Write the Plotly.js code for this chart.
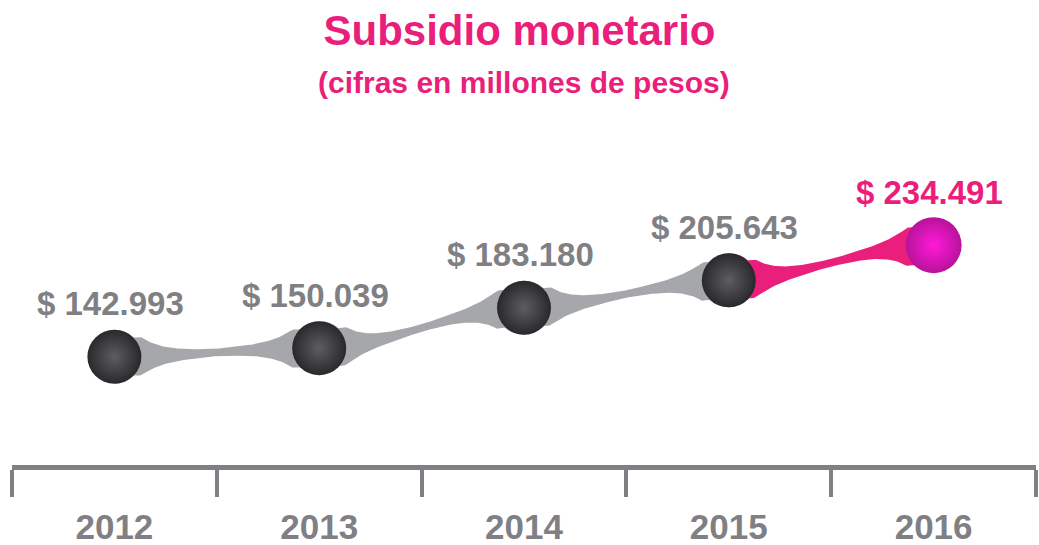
<!DOCTYPE html>
<html><head><meta charset="utf-8">
<script src="https://cdn.plot.ly/plotly-3.0.1.min.js"></script>
<style>html,body{margin:0;padding:0;background:#fff}#chart{width:1039px;height:545px}</style>
</head><body><div id="chart"></div>
<script>
// ---- data ----
const years = ['2012', '2013', '2014', '2015', '2016'];
const values = [142993, 150039, 183180, 205643, 234491]; // millones de pesos
const highlightIndex = 4;

// ---- style ----
const PINK = '#ea1f7b';
const GREY_TXT = '#808084';
const GREY_BAND = '#a6a7aa';
const W = 1039, H = 545;
const M = {l: 12, r: 3, t: 60, b: 80};
const xRange = [-0.5, 4.5];
const yRange = [54210, 386290];
const plotH = H - M.t - M.b;
const plotW = W - M.l - M.r;
const pxPerUnitY = plotH / (yRange[1] - yRange[0]);
const pxPerUnitX = plotW / (xRange[1] - xRange[0]);

function fmt(v) { return '$ ' + String(v).replace(/\B(?=(\d{3})+(?!\d))/g, '.'); }

const xs = years.map((_, i) => i);
const traces = [];

// tapered bands between consecutive points
const R = 27, hMin = 3.2, A = 54, L = 22;
function hExp(u) { return hMin + A * Math.exp(-u / L); }
const hEdge = hExp(R);
for (let i = 0; i < values.length - 1; i++) {
  const N = 160, up = [], lo = [], xu = [], xl = [];
  for (let k = 0; k <= N; k++) {
    const t = k / N;
    const s = 3 * t * t - 2 * t * t * t;
    const yc = values[i] + (values[i + 1] - values[i]) * s;
    const u = Math.min(t, 1 - t) * pxPerUnitX;
    let hpx = hExp(u);
    if (u < R) hpx = Math.min(hpx, Math.max(Math.sqrt(R * R - u * u), hEdge));
    const h = hpx / pxPerUnitY;
    xu.push(xs[i] + t); up.push(yc + h);
    xl.push(xs[i] + t); lo.push(yc - h);
  }
  traces.push({
    x: xu.concat(xl.reverse()), y: up.concat(lo.reverse()),
    type: 'scatter', mode: 'lines', fill: 'toself',
    fillcolor: (i + 1 === highlightIndex) ? PINK : GREY_BAND,
    line: {width: 0}, hoverinfo: 'skip', showlegend: false
  });
}

// spheres
const normX = xs.filter((_, i) => i !== highlightIndex);
const normY = values.filter((_, i) => i !== highlightIndex);
traces.push({
  x: normX, y: normY, type: 'scatter', mode: 'markers', showlegend: false,
  marker: {size: 54, color: '#29292b', opacity: 1,
           gradient: {type: 'radial', color: '#5e5e60'}, line: {width: 0}}
});
traces.push({
  x: [xs[highlightIndex]], y: [values[highlightIndex]], type: 'scatter', mode: 'markers', showlegend: false,
  marker: {size: 56, color: '#b8129b', opacity: 1,
           gradient: {type: 'radial', color: '#ff1ad9'}, line: {width: 0}}
});

const annotations = values.map((v, i) => ({
  x: xs[i], y: v, xref: 'x', yref: 'y', text: fmt(v), showarrow: false,
  yshift: 53, xshift: -4,
  font: {family: 'Liberation Sans, Arial, sans-serif', size: 33, weight: 'bold',
         color: i === highlightIndex ? PINK : GREY_TXT}
}));
annotations.push({
  x: 0.5, y: (H - M.b - 82) / plotH, xref: 'paper', yref: 'paper', yanchor: 'middle',
  text: '(cifras en millones de pesos)', showarrow: false,
  font: {family: 'Liberation Sans, Arial, sans-serif', size: 30, weight: 'bold', color: PINK}
});

const layout = {
  width: W, height: H, margin: M,
  paper_bgcolor: '#fff', plot_bgcolor: '#fff',
  title: {text: 'Subsidio monetario', x: 0.5, xref: 'container', y: 1 - 30 / H, yref: 'container', yanchor: 'middle',
          font: {family: 'Liberation Sans, Arial, sans-serif', size: 42, weight: 'bold', color: PINK}},
  xaxis: {
    range: xRange, tickmode: 'array', tickvals: xs, ticktext: years,
    ticks: 'outside', ticklen: 27, tickcolor: 'rgba(0,0,0,0)',
    tickfont: {family: 'Liberation Sans, Arial, sans-serif', size: 35, weight: 'bold', color: GREY_TXT},
    showline: true, linecolor: GREY_TXT, linewidth: 5, showgrid: false, zeroline: false,
    minor: {ticks: 'outside', ticklen: 27, tickwidth: 4, tickcolor: GREY_TXT, tick0: -0.5, dtick: 1, showgrid: false}
  },
  yaxis: {range: yRange, visible: false, showgrid: false, zeroline: false},
  annotations: annotations,
  hovermode: false
};

Plotly.newPlot('chart', traces, layout, {staticPlot: true, displayModeBar: false});
</script>
</body></html>
